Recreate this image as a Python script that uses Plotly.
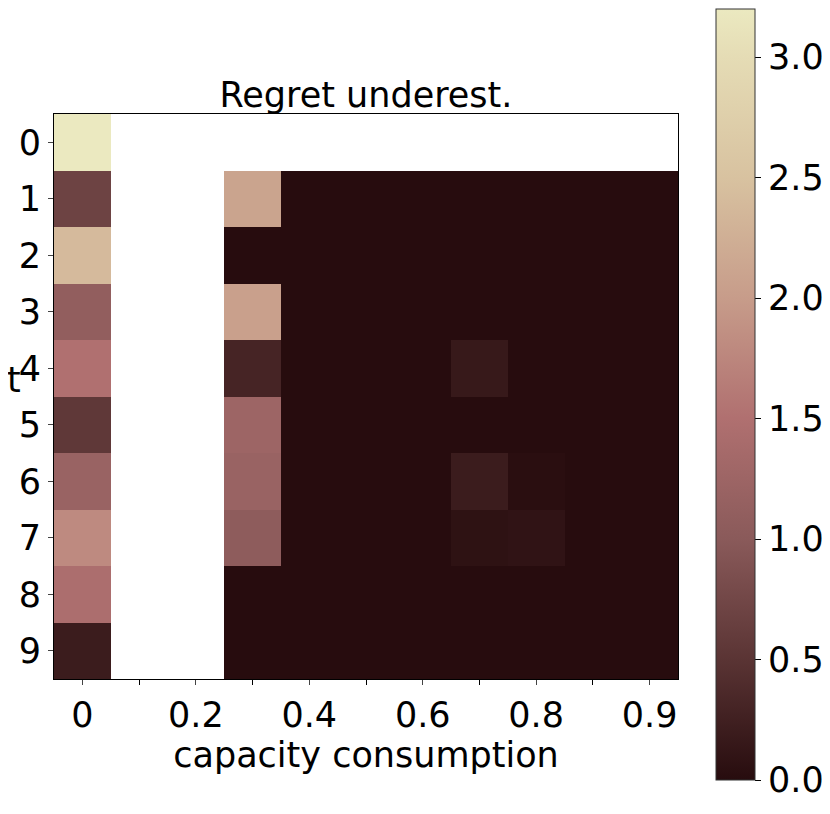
import plotly.graph_objects as go

N = None
t_labels = [str(i) for i in range(10)]
cap_idx = list(range(11))
cap_tick_vals = [0, 2, 4, 6, 8, 10]
cap_tick_text = ["0", "0.2", "0.4", "0.6", "0.8", "0.9"]

row0 = [3.2, N, N, N, N, N, N, N, N, N, N]
row1 = [0.70, N, N, 2.10, 0, 0, 0, 0, 0, 0, 0]
row2 = [2.40, N, N, 0, 0, 0, 0, 0, 0, 0, 0]
row3 = [1.10, N, N, 2.05, 0, 0, 0, 0, 0, 0, 0]
row4 = [1.50, N, N, 0.30, 0, 0, 0, 0.16, 0, 0, 0]
row5 = [0.55, N, N, 1.25, 0, 0, 0, 0, 0, 0, 0]
row6 = [1.20, N, N, 1.20, 0, 0, 0, 0.20, 0.03, 0, 0]
row7 = [1.80, N, N, 1.05, 0, 0, 0, 0.07, 0.09, 0, 0]
row8 = [1.45, N, N, 0, 0, 0, 0, 0, 0, 0, 0]
row9 = [0.20, N, N, 0, 0, 0, 0, 0, 0, 0, 0]
z = [row0, row1, row2, row3, row4, row5, row6, row7, row8, row9]

cb_ticks = [0.0, 0.5, 1.0, 1.5, 2.0, 2.5, 3.0]

colorscale = [
    [0.0, "#270c0e"],
    [0.156, "#5a3434"],
    [0.3125, "#8a5a5a"],
    [0.469, "#b07070"],
    [0.625, "#c79c8a"],
    [0.781, "#d8c2a0"],
    [0.9375, "#e5dcb5"],
    [1.0, "#ebe9c0"],
]

FONT = "DejaVu Sans"
FS = 35
OFF = 8  # page body margin
L, T, PW, PH = 54 - OFF, 114 - OFF, 624, 565
fig = go.Figure(go.Heatmap(
    z=z, x=cap_idx, y=list(range(10)),
    zmin=0, zmax=3.2, colorscale=colorscale,
    hoverongaps=False,
    colorbar=dict(
        thickness=39, thicknessmode="pixels",
        len=771, lenmode="pixels",
        x=(716 - 54) / PW, xanchor="left", xref="paper",
        y=(679 - 394.5) / PH, yanchor="middle", yref="paper",
        outlinewidth=1, outlinecolor="#333333",
        tickvals=cb_ticks, ticktext=[f"{v:.1f}" for v in cb_ticks],
        ticks="outside", ticklen=6, tickcolor="black",
        tickfont=dict(family=FONT, size=FS, color="black"),
        xpad=0, ypad=0,
    ),
))

fig.update_layout(
    width=830, height=814,
    margin=dict(l=L, r=830 - L - PW, t=T, b=814 - T - PH, autoexpand=False),
    paper_bgcolor="white", plot_bgcolor="white",
    font=dict(family=FONT, color="black"),
    title=dict(text="Regret underest.", x=(366 - OFF) / 830, xanchor="center",
               y=1 - (95 - OFF) / 814, yanchor="middle",
               font=dict(family=FONT, size=FS, color="black")),
    xaxis=dict(
        range=[-0.5, 10.5], tickmode="array", tickvals=cap_tick_vals,
        ticktext=cap_tick_text, ticks="outside", ticklen=5,
        tickfont=dict(family=FONT, size=FS),
        minor=dict(tickvals=[1, 3, 5, 7, 9], ticks="outside", ticklen=5, tickcolor="black"),
        showline=True, linecolor="black", linewidth=1, mirror=True,
        showgrid=False, zeroline=False,
        title=dict(text="capacity consumption", font=dict(family=FONT, size=FS), standoff=0),
    ),
    yaxis=dict(
        range=[9.5, -0.5], tickmode="array", tickvals=list(range(10)),
        ticktext=t_labels, ticks="outside", ticklen=5,
        tickfont=dict(family=FONT, size=FS),
        showline=True, linecolor="black", linewidth=1, mirror=True,
        showgrid=False, zeroline=False,
    ),
    annotations=[dict(text="t", xref="paper", yref="paper",
                      x=(14 - 54) / PW, y=(679 - 380) / PH,
                      xanchor="center", yanchor="middle", showarrow=False,
                      font=dict(family=FONT, size=FS, color="black"))],
)

fig.write_html("out.html")
